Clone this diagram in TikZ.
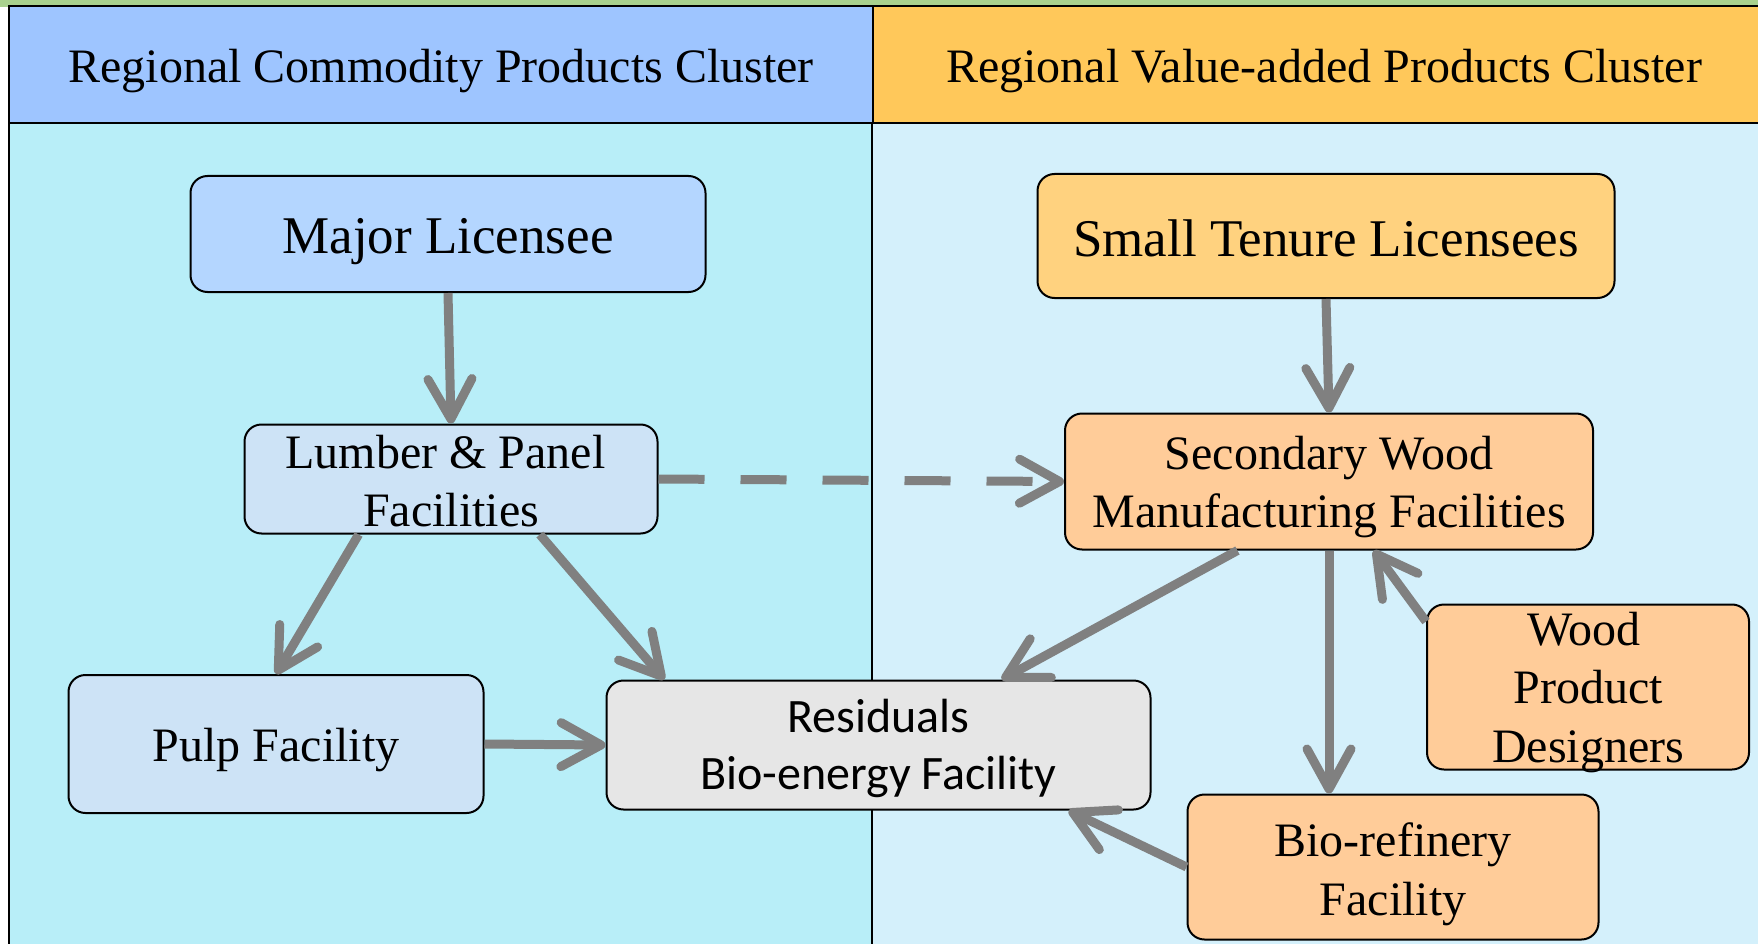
\documentclass[tikz,border=0pt]{standalone}
\usepackage{fontspec}
\setmainfont{Liberation Serif}
\newfontfamily\calibrifont{Carlito}
\usetikzlibrary{arrows.meta}

\definecolor{topgreen}{HTML}{A9D18E}
\definecolor{hdrblue}{HTML}{9EC5FF}
\definecolor{hdrorange}{HTML}{FFC85A}
\definecolor{bodyleft}{HTML}{B8EEF8}
\definecolor{bodyright}{HTML}{D4F0FB}
\definecolor{majorfill}{HTML}{B4D6FF}
\definecolor{lumberfill}{HTML}{CDE3F6}
\definecolor{resfill}{HTML}{E6E6E6}
\definecolor{smallfill}{HTML}{FFD27F}
\definecolor{secfill}{HTML}{FFCC99}
\definecolor{arrowgray}{HTML}{808080}

\newcommand\tstr[1]{\rule{0pt}{#1pt}}
\newcommand\bstr{\rule[-13pt]{0pt}{13pt}}

\begin{document}
\begin{tikzpicture}[x=1pt,y=-1pt,
  hdr/.style={rectangle, draw=black, line width=2pt, inner sep=0pt,
    font=\fontsize{48}{58.5}\selectfont, minimum height=117pt},
  box/.style={rectangle, draw=black, line width=2pt, rounded corners=17pt,
    align=center, inner sep=0pt, font=\fontsize{48}{58.5}\selectfont},
  bigbox/.style={box, font=\fontsize{53}{62}\selectfont},
  flow/.style={draw=arrowgray, line width=9pt,
    -{Straight Barb[length=40pt,width=44pt,line cap=round,line join=round]}},
  dflow/.style={flow, dash pattern=on 46pt off 36pt}
]
\useasboundingbox (0,0) rectangle (1758,944);

% backgrounds
\fill[topgreen] (0,0) rectangle (1758,7);
\fill[bodyleft] (9,123) rectangle (872,944);
\fill[bodyright] (872,123) rectangle (1758,944);
\draw[line width=2pt] (9,123) -- (9,944);
\draw[line width=1.5pt] (872,123) -- (872,944);

% headers
\node[hdr, fill=hdrblue, minimum width=864pt] (hL) at (441,64.5)
  {\tstr{49.4}\bstr Regional Commodity Products Cluster};
\node[hdr, fill=hdrorange, minimum width=902pt] (hR) at (1324,64.5)
  {\tstr{49.4}\bstr Regional Value-added Products Cluster};

% nodes
\node[bigbox, fill=majorfill, minimum width=515pt, minimum height=116pt] (major) at (448,234)
  {\tstr{51.6}\bstr Major Licensee};
\node[box, fill=lumberfill, minimum width=413pt, minimum height=109pt] (lumber) at (451,479)
  {\tstr{37.1}Lumber \& Panel\hspace*{11pt}\\\smash{Facilities}};
\node[box, fill=lumberfill, minimum width=415pt, minimum height=138pt] (pulp) at (276,744)
  {\tstr{47}\bstr Pulp Facility};
\node[box, fill=resfill, minimum width=544pt, minimum height=129pt,
  font=\calibrifont\fontsize{48}{57}\selectfont] (res) at (878.5,745)
  {\tstr{44.6}Residuals\\Bio-energy Facility\bstr};
\node[bigbox, fill=smallfill, minimum width=577pt, minimum height=124pt] (small) at (1326,236)
  {\tstr{53.6}\bstr Small Tenure Licensees};
\node[box, fill=secfill, minimum width=528pt, minimum height=136pt] (sec) at (1329,481.5)
  {\tstr{47.1}Secondary Wood\\Manufacturing Facilities\bstr};
\node[box, fill=secfill, minimum width=322pt, minimum height=165pt] (wood) at (1588,687)
  {\tstr{33}Wood\hspace*{8pt}\\Product\\\smash{Designers}};
\node[box, fill=secfill, minimum width=411pt, minimum height=145pt] (bioref) at (1393,867)
  {\tstr{50.9}Bio-refinery\\Facility\bstr};

% connectors
\draw[flow] (major.south) -- (lumber.north);
\draw[dflow] (lumber.east) -- (sec.west);
\draw[flow] (lumber.211) -- (pulp.north);
\draw[flow] (lumber.328) -- (res.163);
\draw[flow] (pulp.east) -- (res.west);
\draw[flow] (small.south) -- (sec.north);
\draw[flow] (sec.217) -- (res.28);
\draw[flow] (sec.south) -- (sec.south |- bioref.north);
\draw[flow] (wood.158.6) -- (sec.303);
\draw[flow] (bioref.west) -- (res.341);
\end{tikzpicture}
\end{document}
